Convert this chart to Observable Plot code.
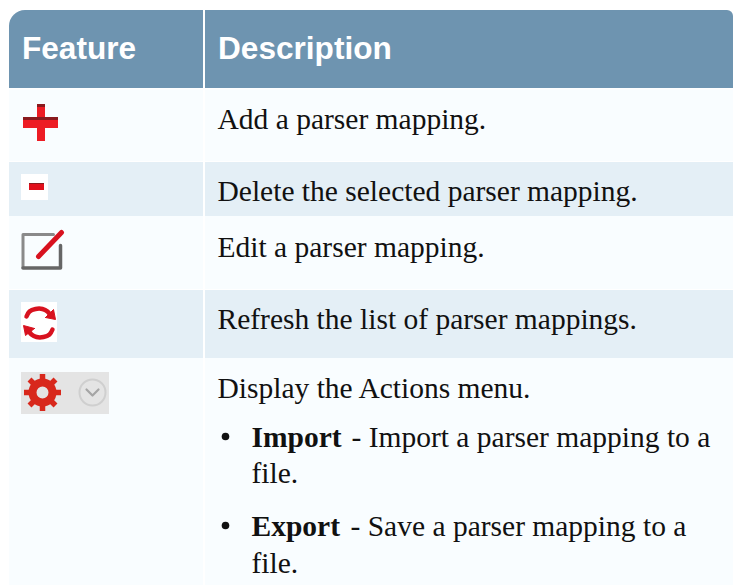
<!DOCTYPE html>
<html><head><meta charset="utf-8">
<script src="https://cdn.jsdelivr.net/npm/d3@7"></script>
<script src="https://cdn.jsdelivr.net/npm/@observablehq/plot@0.6"></script>
<style>html,body{margin:0;padding:0;background:#fff;overflow:hidden}svg{display:block}</style>
</head><body><div id="chart"></div>
<script>
const headers = ["Feature", "Description"];
const columnEdges = [[9, 203], [205, 733]];
const headerBand = [10, 88];
const rowEdges = [[89.5, 161], [162, 216], [216, 289], [290, 358], [358, 585]];
const rowFills = ["#f9fdff", "#e4eff6", "#f9fdff", "#e4eff6", "#f9fdff"];
const bodyLines = [
  {x: 217, y: 128, t: "Add a parser mapping."},
  {x: 217, y: 200, t: "Delete the selected parser mapping."},
  {x: 217, y: 256, t: "Edit a parser mapping."},
  {x: 217, y: 328, t: "Refresh the list of parser mappings."},
  {x: 217, y: 397, t: "Display the Actions menu."},
  {x: 351, y: 446, t: "- Import a parser mapping to a"},
  {x: 251, y: 482, t: "file."},
  {x: 350, y: 535, t: "- Save a parser mapping to a"},
  {x: 251, y: 572, t: "file."}
];
const boldLines = [{x: 251, y: 446, t: "Import"}, {x: 251, y: 535, t: "Export"}];
const bullets = [{x: 225, y: 436}, {x: 225, y: 525}];
const iconBacks = [
  {x1: 21, x2: 48, y1: 174, y2: 200, f: "#ffffff"},
  {x1: 21, x2: 57, y1: 302, y2: 342, f: "#ffffff"},
  {x1: 21, x2: 109, y1: 372, y2: 414, f: "#e4e4e4"}
];
const redBars = [
  {x1: 23, x2: 58, y1: 117, y2: 128, f: "#ed1c24"},
  {x1: 37, x2: 45, y1: 104, y2: 141, f: "#ed1c24"},
  {x1: 29, x2: 44, y1: 183, y2: 190, f: "#e0101c"}
];
const darkBars = [
  {x1: 37, x2: 45, y1: 104, y2: 107},
  {x1: 23, x2: 58, y1: 117, y2: 120},
  {x1: 29, x2: 44, y1: 183, y2: 184}
];
const editBox = [[53,234],[22.5,234],[22.5,267]];
const editBoxDark = [[22.5,267.5],[60,267.5],[60,245]];
const editPen = [[38,256],[61,232]];
const refreshTop = [[26,316],[29,311],[35,308.5],[42,308.5],[47,311],[50,315]];
const refreshBottom = [[52,329],[49,334],[43,336.5],[36,336.5],[31,334],[28,330]];
const refreshHeads = [[[45,317],[55,319],[53,309]],[[34,328],[23,325],[25,335]]];
const gearTeeth = [[42,373.5,42,410.5],[23.5,392,60.5,392],[29,379,55,405],[55,379,29,405]];
const chevron = [[86,389],[92,395],[98,389]];
const toLine = (pts) => pts.map(([x, y]) => ({x, y}));
const textBase = {x: "x", y: "y", text: "t", lineAnchor: "bottom", textAnchor: "start", fill: "#111", fontFamily: "Liberation Serif", fontSize: 29.5};

const chart = Plot.plot({
  width: 733, height: 585, margin: 0,
  x: {domain: [0, 733], range: [0, 733], axis: null},
  y: {domain: [0, 585], range: [0, 585], axis: null},
  style: {background: "#fff"},
  marks: [
    Plot.rect([columnEdges[0]], {x1: d => d[0], x2: d => d[1], y1: () => headerBand[0], y2: () => headerBand[1], fill: "#6e94b0", rx1y1: 16}),
    Plot.rect([columnEdges[1]], {x1: d => d[0], x2: d => d[1], y1: () => headerBand[0], y2: () => headerBand[1], fill: "#6e94b0", rx2y1: 6}),
    ...columnEdges.map(c => Plot.rect(rowEdges.map((r, i) => ({r, f: rowFills[i]})), {
      x1: () => c[0], x2: () => c[1], y1: d => d.r[0], y2: d => d.r[1], fill: d => d.f})),
    Plot.text(headers, {x: (d, i) => columnEdges[i][0] + 12.5, y: () => 58.5, text: d => d, lineAnchor: "bottom", textAnchor: "start",
      fill: "#ffffff", fontFamily: "Liberation Sans", fontWeight: "bold", fontSize: 31.6}),
    Plot.text(bodyLines, textBase),
    Plot.text(boldLines, {...textBase, fontWeight: "bold"}),
    Plot.dot(bullets, {x: "x", y: "y", r: 3.8, fill: "#111"}),
    Plot.rect(iconBacks, {x1: "x1", x2: "x2", y1: "y1", y2: "y2", fill: "f"}),
    Plot.rect(redBars, {x1: "x1", x2: "x2", y1: "y1", y2: "y2", fill: "f"}),
    Plot.rect(darkBars, {x1: "x1", x2: "x2", y1: "y1", y2: "y2", fill: "#8a1a1e"}),
    Plot.line(toLine(editBox), {x: "x", y: "y", stroke: "#8a8a8a", strokeWidth: 3}),
    Plot.line(toLine(editBoxDark), {x: "x", y: "y", stroke: "#666", strokeWidth: 3.5}),
    Plot.line(toLine(editPen), {x: "x", y: "y", stroke: "#d8121f", strokeWidth: 5, strokeLinecap: "round"}),
    Plot.line(toLine(refreshTop), {x: "x", y: "y", stroke: "#d8121f", strokeWidth: 4.5, curve: "catmull-rom"}),
    Plot.line(toLine(refreshBottom), {x: "x", y: "y", stroke: "#d8121f", strokeWidth: 4.5, curve: "catmull-rom"}),
    ...refreshHeads.map(h => Plot.line([...toLine(h), toLine(h)[0]], {x: "x", y: "y", fill: "#d8121f", stroke: "#d8121f", strokeWidth: 1})),
    Plot.link(gearTeeth, {x1: d => d[0], y1: d => d[1], x2: d => d[2], y2: d => d[3], stroke: "#d8281c", strokeWidth: 5.5}),
    Plot.dot([{x: 42, y: 392}], {x: "x", y: "y", r: 10, fill: "#e4e4e4", stroke: "#d8281c", strokeWidth: 8}),
    Plot.dot([{x: 92, y: 392}], {x: "x", y: "y", r: 13, fill: "none", stroke: "#cfcfcf", strokeWidth: 2}),
    Plot.line(toLine(chevron), {x: "x", y: "y", stroke: "#a5a5a5", strokeWidth: 2.2})
  ]
});
document.getElementById("chart").append(chart);
</script></body></html>
